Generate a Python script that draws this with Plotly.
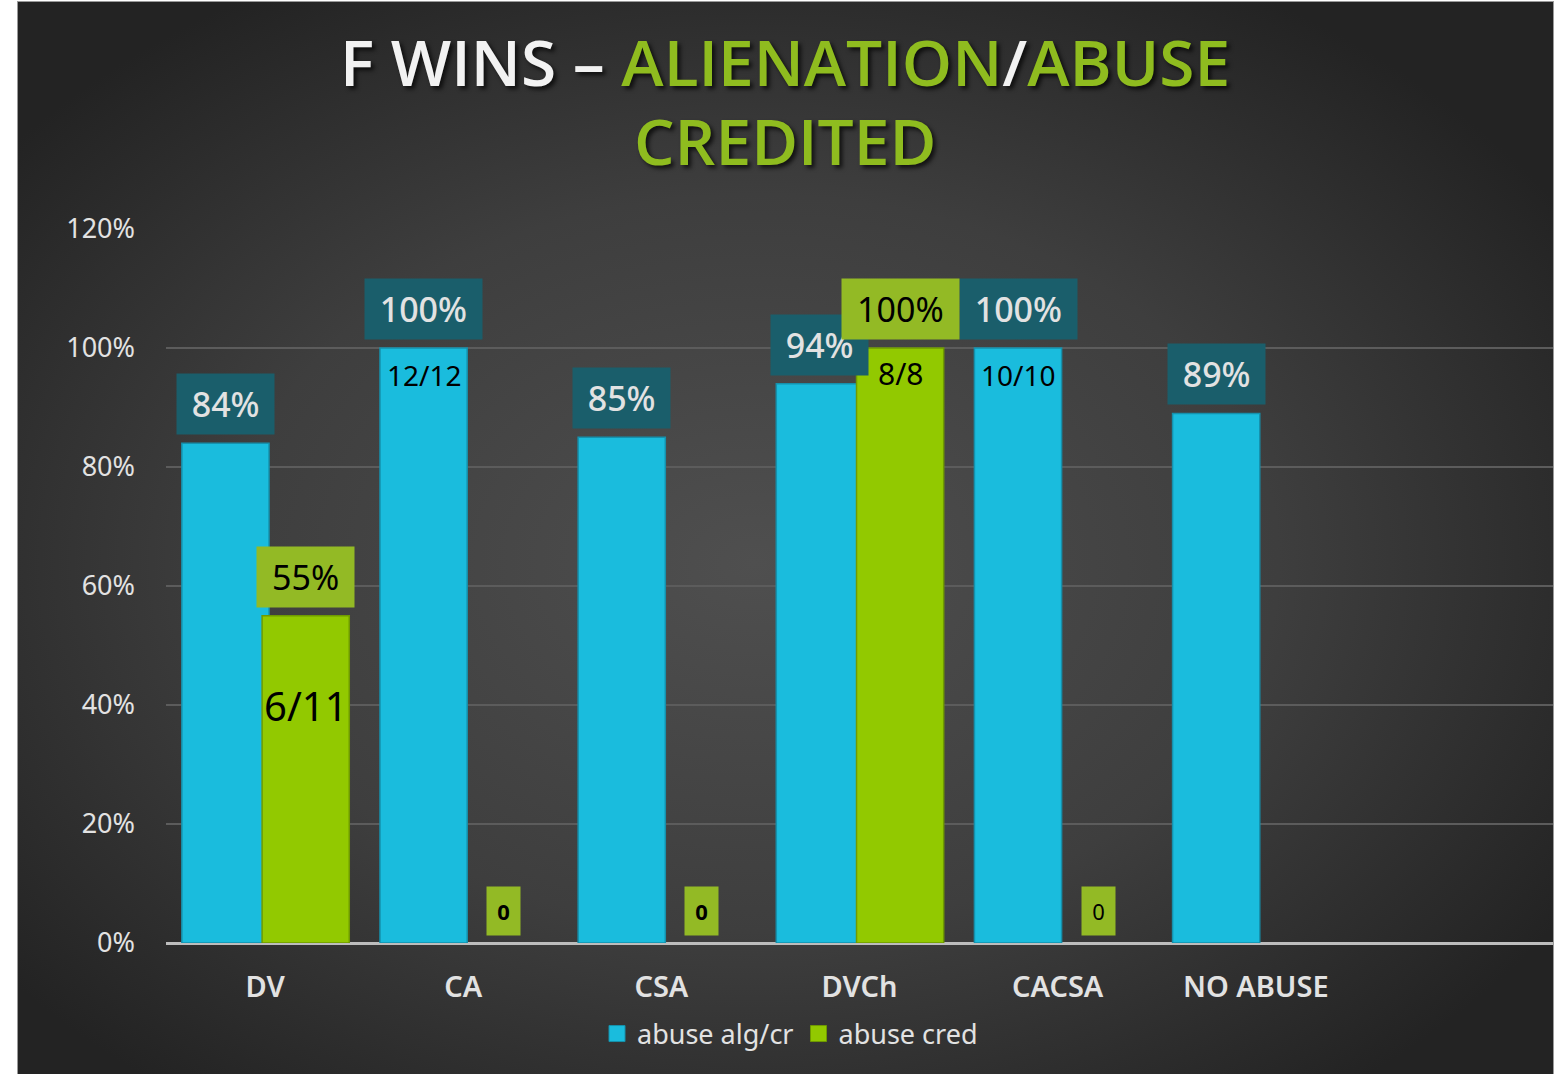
import base64
import plotly.graph_objects as go

# ---------------- data ----------------
categories = ["DV", "CA", "CSA", "DVCh", "CACSA", "NO ABUSE"]
abuse_alg_cr = [84, 100, 85, 94, 100, 89]
abuse_cred = [55, 0, 0, 100, 0, None]
alg_counts = ["", "12/12", "", "", "10/10", ""]
cred_counts = ["6/11", "", "", "8/8", "", ""]
y_ticks = [0, 20, 40, 60, 80, 100, 120]
y_tick_labels = ["0%", "20%", "40%", "60%", "80%", "100%", "120%"]
n_slots = 7  # axis leaves one empty slot on the right

# ---------------- styling ----------------
W, H = 1556, 1074
ML, MR, MT, MB = 166, 3, 229, 131
PW, PH = W - ML - MR, H - MT - MB
BLUE = "#1abcdd"
GREEN = "#92c900"
BLUE_LBL = "#1a5e6b"
GREEN_LBL = "#93ba25"
TXT = "#e2e2e2"
TITLE_GREEN = "#8fbc1f"
FONT = "Noto Sans"

BAR_W = 0.44
BLUE_OFF = -0.42
GREEN_OFF = -0.015

xs = list(range(len(categories)))


def px_x(px):
    return (px - ML) / PW


def px_y(py):
    return (MT + PH - py) / PH


fig = go.Figure()
fig.add_trace(go.Bar(
    x=xs, y=abuse_alg_cr, name="abuse alg/cr", width=BAR_W, offset=BLUE_OFF, showlegend=False,
    marker=dict(color=BLUE, line=dict(color="#1591ad",
                                      width=[1.5 if v else 0 for v in abuse_alg_cr])),
))
fig.add_trace(go.Bar(
    x=xs, y=abuse_cred, name="abuse cred", width=BAR_W, offset=GREEN_OFF, showlegend=False,
    marker=dict(color=GREEN, line=dict(color="#6f9a00",
                                       width=[1.5 if v else 0 for v in abuse_cred])),
))
# legend entries with larger square swatches
for nm, col, lc in [("abuse alg/cr", BLUE, "#1591ad"), ("abuse cred", GREEN, "#6f9a00")]:
    fig.add_trace(go.Scatter(x=[None], y=[None], mode="markers", name=nm,
                             marker=dict(symbol="square", size=17, color=col, line=dict(color=lc, width=1))))


def box_width(text, size):
    w = 0
    for ch in text:
        w += 0.84 * size if ch == "%" else 0.57 * size
    return w + 18


ann = []
blue_c = BLUE_OFF + BAR_W / 2
green_c = GREEN_OFF + BAR_W / 2
for i, v in enumerate(abuse_alg_cr):
    t = f"{v}%"
    ann.append(dict(x=i + blue_c, y=v, text=t, showarrow=False, yanchor="bottom", yshift=8,
                    bgcolor=BLUE_LBL, borderpad=6, width=box_width(t, 34), height=48,
                    font=dict(family=FONT, size=34, color=TXT, weight=500)))
for i, v in enumerate(abuse_cred):
    if v is None:
        continue
    if v == 0:
        ann.append(dict(x=i + green_c, y=0, text="<b>0</b>" if i != 4 else "0", showarrow=False,
                        yanchor="bottom", yshift=7, bgcolor=GREEN_LBL, borderpad=0,
                        width=33, height=48, font=dict(family=FONT, size=22, color="#000000")))
    else:
        t = f"{v}%"
        ann.append(dict(x=i + green_c, y=v, text=t, showarrow=False, yanchor="bottom", yshift=8,
                        bgcolor=GREEN_LBL, borderpad=6, width=box_width(t, 34), height=48,
                        font=dict(family=FONT, size=34, color="#000000")))
for i, t in enumerate(alg_counts):
    if t:
        ann.append(dict(x=i + blue_c, y=abuse_alg_cr[i], text=t, showarrow=False,
                        yanchor="middle", yshift=-27, font=dict(family=FONT, size=28, color="#000000")))
for i, t in enumerate(cred_counts):
    if t:
        if abuse_cred[i] == 100:
            ann.append(dict(x=i + green_c, y=abuse_cred[i], text=t, showarrow=False,
                            yanchor="middle", yshift=-25, font=dict(family=FONT, size=30, color="#000000")))
        else:
            ann.append(dict(x=i + green_c, y=40, text=t, showarrow=False,
                            yanchor="middle", font=dict(family=FONT, size=40, color="#000000")))

# title as two centred lines
title_font = dict(family="Open Sans", size=64, color="#f2f2f2", weight=600,
                  shadow="3px 3px 4px rgba(0,0,0,0.7)")
ann.append(dict(xref="paper", yref="paper", x=px_x(785), y=px_y(62), xanchor="center", yanchor="middle",
                showarrow=False, font=title_font,
                text=(f"F WINS – <span style='color:{TITLE_GREEN}'>ALIENATION</span>/"
                      f"<span style='color:{TITLE_GREEN}'>ABUSE</span>")))
ann.append(dict(xref="paper", yref="paper", x=px_x(785), y=px_y(140), xanchor="center", yanchor="middle",
                showarrow=False, font=title_font,
                text=f"<span style='color:{TITLE_GREEN}'>CREDITED</span>"))

# background: radial gradient panel
svg = f'''<svg xmlns="http://www.w3.org/2000/svg" width="{W}" height="{H}" viewBox="0 0 {W} {H}">
<defs><radialGradient id="g" cx="48%" cy="52%" r="62%">
<stop offset="0" stop-color="#4f4f4f"/><stop offset="0.55" stop-color="#3e3e3e"/><stop offset="1" stop-color="#232323"/>
</radialGradient></defs>
<rect x="0" y="0" width="{W}" height="{H}" fill="#ffffff"/>
<rect x="17.5" y="1.5" width="1536" height="1080" fill="url(#g)" stroke="#9a9a9a" stroke-width="1"/>
</svg>'''
src = "data:image/svg+xml;base64," + base64.b64encode(svg.encode()).decode()

fig.update_layout(
    width=W, height=H,
    margin=dict(l=ML, r=MR, t=MT, b=MB, pad=0),
    paper_bgcolor="#ffffff",
    plot_bgcolor="rgba(0,0,0,0)",
    barmode="overlay",
    showlegend=True,
    legend=dict(orientation="h", x=px_x(790), xanchor="center", y=px_y(1034),
                yanchor="middle", font=dict(family=FONT, size=27, color=TXT),
                bgcolor="rgba(0,0,0,0)", itemsizing="trace", itemwidth=30, tracegroupgap=0),
    xaxis=dict(range=[-0.5, n_slots - 0.5], tickvals=xs, ticktext=categories,
               showgrid=False, zeroline=False, showline=False, ticks="",
               tickfont=dict(family=FONT, size=29, color=TXT, weight=600),
               ticklabelstandoff=24, fixedrange=True),
    yaxis=dict(range=[0, 120], tickvals=y_ticks, ticktext=y_tick_labels,
               showgrid=True, gridcolor="#5c5c5c", gridwidth=1.5,
               zeroline=True, zerolinecolor="#bdbdbd", zerolinewidth=2.5,
               showline=False, ticks="", ticklabelstandoff=30,
               tickfont=dict(family=FONT, size=27, color=TXT), fixedrange=True),
    annotations=ann,
    images=[dict(source=src, xref="paper", yref="paper", x=-ML / PW, y=1 + MT / PH,
                 sizex=W / PW, sizey=H / PH, sizing="stretch", xanchor="left", yanchor="top",
                 layer="below")],
)

fig.write_html("out.html", config={"displayModeBar": False},
               post_script="document.body.style.margin='0';document.body.style.overflow='hidden';")
